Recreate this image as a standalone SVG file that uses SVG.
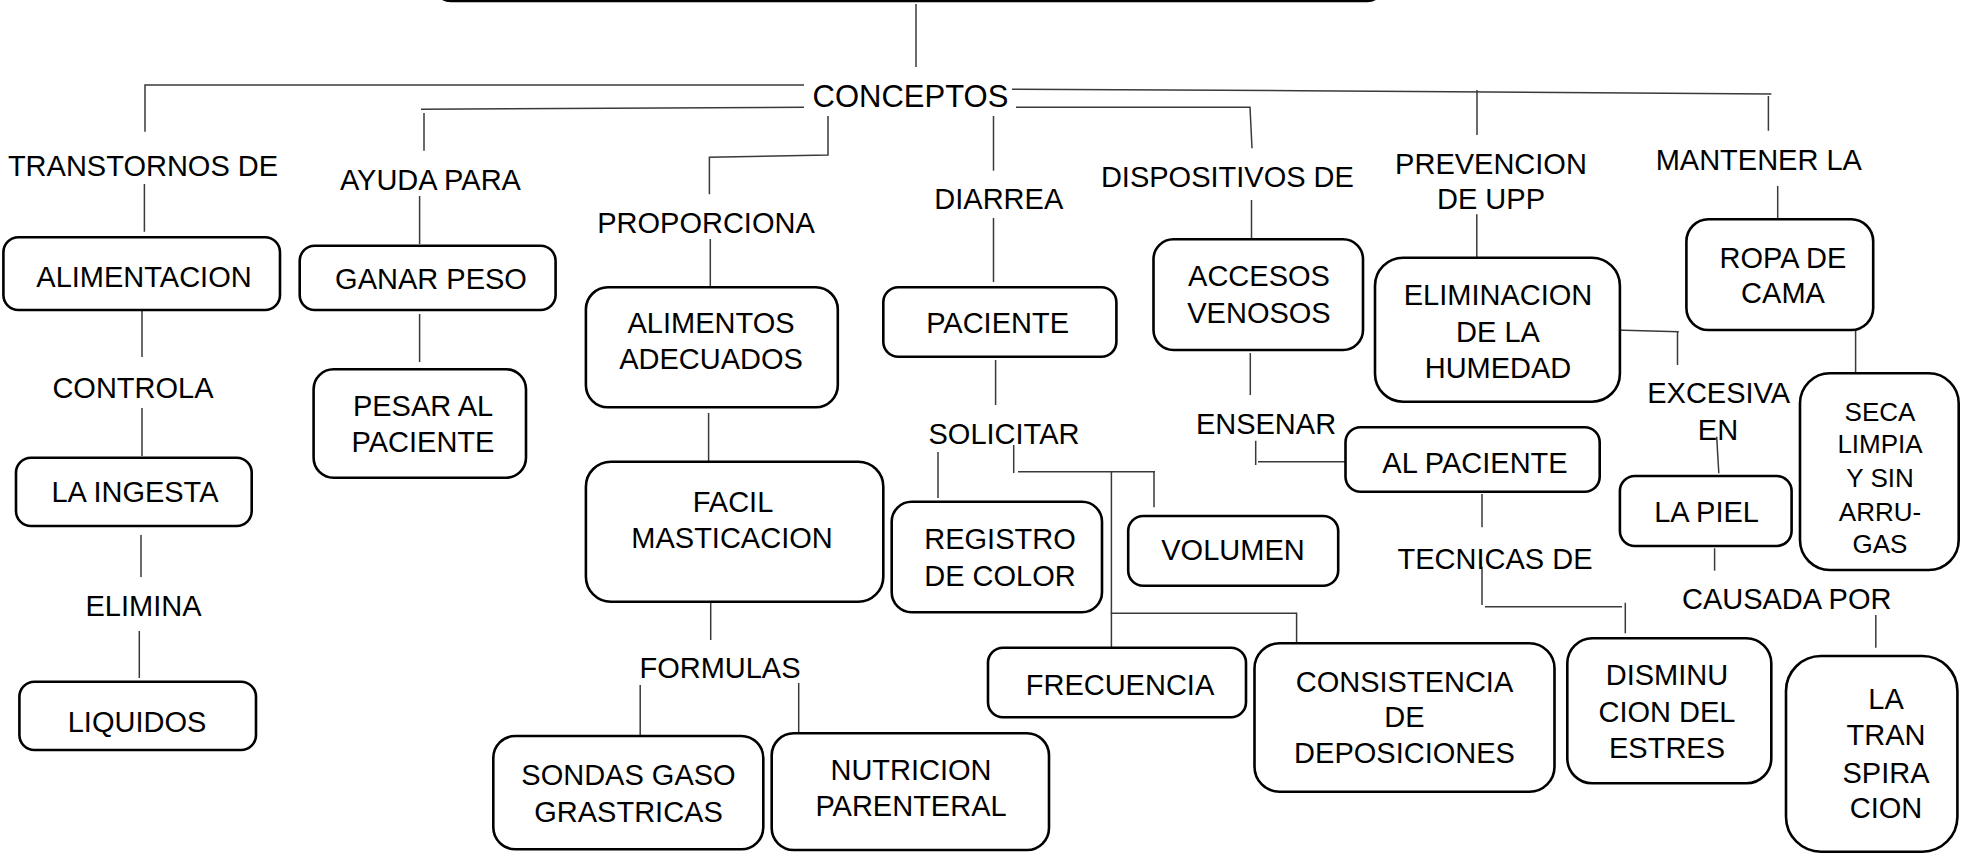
<svg xmlns="http://www.w3.org/2000/svg" width="1965" height="854" viewBox="0 0 1965 854">
<style>
.box{fill:#fff;stroke:#000;stroke-width:2.6}
.t{font-family:"Liberation Sans",Arial,sans-serif;font-size:29px;text-anchor:middle;fill:#000}
.s{font-size:26px}
.c{fill:none;stroke:#3a3a3a;stroke-width:1.5}
</style>
<rect width="1965" height="854" fill="#fff"/>
<g id="top"><rect class="box" x="434" y="-60" width="950" height="61" rx="17"/></g>
<g id="connectors" class="c">
<path d="M916,4V67"/>
<path d="M145,131.7V85H804"/>
<path d="M421,109.3L804,107.3M424,113V150.7"/>
<path d="M1012,89.3L1300,90.7L1771.4,94"/>
<path d="M1477,90V135M1768.4,96V130.7"/>
<path d="M1016,107.3H1250L1252,148.3"/>
<path d="M828,116V155L709.4,157.3V194.3"/>
<path d="M993.5,116V170.7"/>
<path d="M144.4,184V231.7M142,310V357M142,408V456M141,535V577M139.3,631V678"/>
<path d="M419.6,196V244M419.6,314V362"/>
<path d="M710.3,239V286.7M708.6,413V461M710.7,603V640"/>
<path d="M640.2,685V735M798.7,683V733"/>
<path d="M993.5,218V282M995.6,360V405"/>
<path d="M1251.5,200V245.7M1250.3,353V395"/>
<path d="M938,452V498"/>
<path d="M1013.7,445V473M1018,471.7H1155M1154,471.7V507.3"/>
<path d="M1111.4,471.7V647.3M1110.5,613.3H1296.6V642.7"/>
<path d="M1255.7,440.7V465M1258,461.7H1345.5"/>
<path d="M1482,494V527.3M1482,566.7V605M1485,606.7H1622M1625.3,602.7V633.3"/>
<path d="M1476.8,214.3V257.3"/>
<path d="M1614.8,330L1678.8,331.7M1677.5,331.7V365"/>
<path d="M1716.7,436.7L1718.8,473.3"/>
<path d="M1714.6,548.3V570.7"/>
<path d="M1875.8,615V647.7"/>
<path d="M1777.7,186V219"/>
<path d="M1855.6,330V373.3"/>
</g>
<g id="labels">
<text class="t" x="910.5" y="107.3" style="font-size:31px">CONCEPTOS</text>
<text class="t" x="143" y="175.7">TRANSTORNOS DE</text>
<text class="t" x="430.4" y="190">AYUDA PARA</text>
<text class="t" x="706" y="233.3">PROPORCIONA</text>
<text class="t" x="998.8" y="209.3">DIARREA</text>
<text class="t" x="1227.4" y="187.3">DISPOSITIVOS DE</text>
<text class="t" x="1491" y="174">PREVENCION</text>
<text class="t" x="1491" y="209.3">DE UPP</text>
<text class="t" x="1758.8" y="170">MANTENER LA</text>
<text class="t" x="133" y="398.3">CONTROLA</text>
<text class="t" x="143.5" y="616">ELIMINA</text>
<text class="t" x="720" y="678.3">FORMULAS</text>
<text class="t" x="1004" y="444">SOLICITAR</text>
<text class="t" x="1266" y="433.5">ENSENAR</text>
<text class="t" x="1495" y="569.3">TECNICAS DE</text>
<text class="t" x="1718.7" y="402.7">EXCESIVA</text>
<text class="t" x="1718" y="440">EN</text>
<text class="t" x="1786.7" y="609.3">CAUSADA POR</text>
</g>
<g id="n-alimentacion"><rect class="box" x="3.4" y="237.3" width="276.6" height="72.7" rx="15"/><text class="t" x="144" y="286.7">ALIMENTACION</text></g>
<g id="n-ganarpeso"><rect class="box" x="299.7" y="245.7" width="255.9" height="64.3" rx="15"/><text class="t" x="431" y="289.3">GANAR PESO</text></g>
<g id="n-ingesta"><rect class="box" x="16" y="457.7" width="235.7" height="68.3" rx="15"/><text class="t" x="135" y="502.3">LA INGESTA</text></g>
<g id="n-liquidos"><rect class="box" x="19.4" y="681.7" width="236.6" height="68.3" rx="15"/><text class="t" x="137" y="732.3">LIQUIDOS</text></g>
<g id="n-pesar"><rect class="box" x="313.6" y="369.3" width="212.4" height="108.4" rx="20"/><text class="t" x="423" y="416">PESAR AL</text><text class="t" x="423" y="451.7">PACIENTE</text></g>
<g id="n-alimentos"><rect class="box" x="585.9" y="287.3" width="251.9" height="120" rx="22"/><text class="t" x="711" y="333.3">ALIMENTOS</text><text class="t" x="711" y="369.3">ADECUADOS</text></g>
<g id="n-facil"><rect class="box" x="585.9" y="461.7" width="297.4" height="140" rx="25"/><text class="t" x="733" y="511.7">FACIL</text><text class="t" x="732" y="548.3">MASTICACION</text></g>
<g id="n-sondas"><rect class="box" x="493.3" y="736" width="270" height="113.3" rx="22"/><text class="t" x="628.5" y="785">SONDAS GASO</text><text class="t" x="628.5" y="821.7">GRASTRICAS</text></g>
<g id="n-nutricion"><rect class="box" x="771.7" y="733.3" width="277.3" height="116.7" rx="22"/><text class="t" x="911" y="780">NUTRICION</text><text class="t" x="911" y="816">PARENTERAL</text></g>
<g id="n-paciente"><rect class="box" x="883.3" y="287.3" width="233.1" height="69.4" rx="15"/><text class="t" x="997.6" y="333.3">PACIENTE</text></g>
<g id="n-registro"><rect class="box" x="891.7" y="501.7" width="210.3" height="110.6" rx="20"/><text class="t" x="1000" y="549.3">REGISTRO</text><text class="t" x="1000" y="585.7">DE COLOR</text></g>
<g id="n-volumen"><rect class="box" x="1128.2" y="516" width="210" height="69.7" rx="15"/><text class="t" x="1233" y="560">VOLUMEN</text></g>
<g id="n-frecuencia"><rect class="box" x="988" y="647.7" width="258" height="69.6" rx="15"/><text class="t" x="1120" y="695">FRECUENCIA</text></g>
<g id="n-consistencia"><rect class="box" x="1254.5" y="643.3" width="300" height="148.4" rx="25"/><text class="t" x="1404.5" y="691.7">CONSISTENCIA</text><text class="t" x="1404.5" y="727.3">DE</text><text class="t" x="1404.5" y="763.3">DEPOSICIONES</text></g>
<g id="n-accesos"><rect class="box" x="1153.5" y="239.3" width="209.5" height="110.7" rx="20"/><text class="t" x="1259" y="286">ACCESOS</text><text class="t" x="1259" y="322.7">VENOSOS</text></g>
<g id="n-alpaciente"><rect class="box" x="1345.5" y="427.3" width="254.2" height="64.4" rx="15"/><text class="t" x="1475" y="473.3">AL PACIENTE</text></g>
<g id="n-eliminacion"><rect class="box" x="1375" y="257.7" width="244.9" height="144" rx="28"/><text class="t" x="1498" y="305">ELIMINACION</text><text class="t" x="1498" y="341.7">DE LA</text><text class="t" x="1498" y="378.3">HUMEDAD</text></g>
<g id="n-disminucion"><rect class="box" x="1567.3" y="638.3" width="204" height="145" rx="25"/><text class="t" x="1667" y="685">DISMINU</text><text class="t" x="1667" y="721.7">CION DEL</text><text class="t" x="1667" y="758.3">ESTRES</text></g>
<g id="n-piel"><rect class="box" x="1619.9" y="476" width="171.7" height="70" rx="15"/><text class="t" x="1706.6" y="521.7">LA PIEL</text></g>
<g id="n-ropa"><rect class="box" x="1686.4" y="219.3" width="186.8" height="110.7" rx="22"/><text class="t" x="1783" y="267.7">ROPA DE</text><text class="t" x="1783" y="303.3">CAMA</text></g>
<g id="n-seca"><rect class="box" x="1800" y="373.3" width="158.7" height="196.7" rx="30"/><text class="t s" x="1880" y="420.7">SECA</text><text class="t s" x="1880" y="453.3">LIMPIA</text><text class="t s" x="1880" y="486.7">Y SIN</text><text class="t s" x="1880" y="520.7">ARRU-</text><text class="t s" x="1880" y="552.7">GAS</text></g>
<g id="n-transpiracion"><rect class="box" x="1786" y="656" width="171.4" height="195.7" rx="35"/><text class="t" x="1886" y="709.3">LA</text><text class="t" x="1886" y="745">TRAN</text><text class="t" x="1886" y="782.7">SPIRA</text><text class="t" x="1886" y="818.3">CION</text></g>
</svg>
